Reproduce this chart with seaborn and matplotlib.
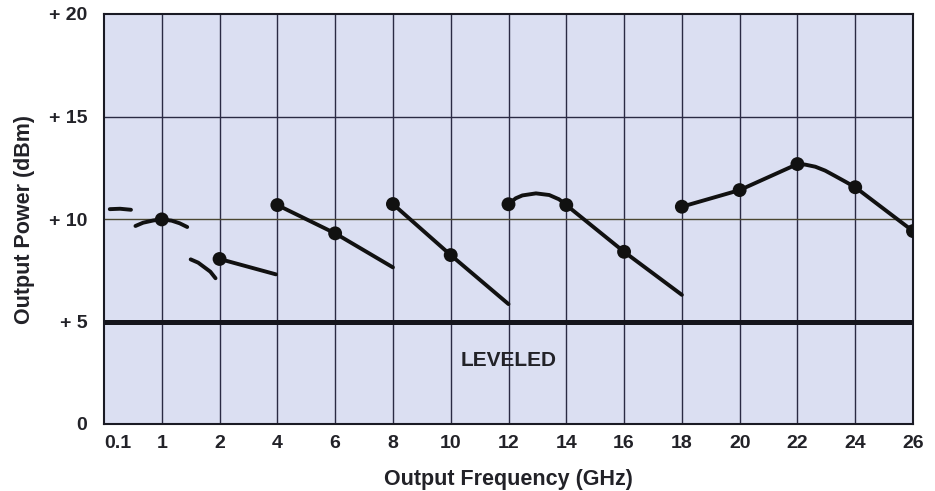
import numpy as np
import pandas as pd
import matplotlib
matplotlib.use("Agg")
import matplotlib.pyplot as plt
import seaborn as sns

# tick positions (GHz) - the chart uses evenly spaced slots for these
tick_ghz = [0.1, 1, 2, 4, 6, 8, 10, 12, 14, 16, 18, 20, 22, 24, 26]
tick_labels = ["0.1", "1", "2", "4", "6", "8", "10", "12", "14", "16", "18", "20", "22", "24", "26"]
ytick_vals = [0, 5, 10, 15, 20]
ytick_labels = ["0", "+ 5", "+ 10", "+ 15", "+ 20"]

# curve segments (GHz, dBm)
seg_a_ghz = [0.19, 0.35, 0.52]
seg_a_dbm = [10.48, 10.50, 10.45]
seg_b_ghz = [0.59, 0.71, 0.87, 1.0, 1.17, 1.31, 1.44]
seg_b_dbm = [9.66, 9.82, 9.93, 9.98, 9.92, 9.79, 9.61]
seg_c_ghz = [1.50, 1.63, 1.74, 1.84, 1.93]
seg_c_dbm = [8.03, 7.87, 7.64, 7.43, 7.11]
seg_d_ghz = [2, 3.95]
seg_d_dbm = [8.05, 7.30]
seg_e_ghz = [4, 6, 8]
seg_e_dbm = [10.68, 9.30, 7.64]
seg_f_ghz = [8, 10, 12]
seg_f_dbm = [10.73, 8.24, 5.85]
seg_g_ghz = [12, 12.25, 12.48, 12.95, 13.41, 13.75, 14, 16, 18]
seg_g_dbm = [10.72, 11.01, 11.15, 11.25, 11.17, 10.96, 10.68, 8.40, 6.30]
seg_h_ghz = [18, 20, 22, 22.28, 22.62, 22.96, 23.3, 23.66, 24, 26]
seg_h_dbm = [10.60, 11.41, 12.68, 12.65, 12.55, 12.36, 12.10, 11.82, 11.55, 9.41]

# measured points (dots)
dot_ghz = [1, 2, 4, 6, 8, 10, 12, 14, 16, 18, 20, 22, 24, 26]
dot_dbm = [9.98, 8.05, 10.68, 9.30, 10.73, 8.24, 10.72, 10.68, 8.40, 10.60, 11.41, 12.68, 11.55, 9.41]

leveled_dbm = 5

segments = {
    "a": (seg_a_ghz, seg_a_dbm), "b": (seg_b_ghz, seg_b_dbm),
    "c": (seg_c_ghz, seg_c_dbm), "d": (seg_d_ghz, seg_d_dbm),
    "e": (seg_e_ghz, seg_e_dbm), "f": (seg_f_ghz, seg_f_dbm),
    "g": (seg_g_ghz, seg_g_dbm), "h": (seg_h_ghz, seg_h_dbm),
}
slots = np.arange(len(tick_ghz))


def to_slot(ghz):
    return np.interp(ghz, tick_ghz, slots)


rows = []
for name, (g, p) in segments.items():
    for i, (gx, py) in enumerate(zip(g, p)):
        rows.append({"segment": name, "order": i, "slot": to_slot(gx), "dbm": py})
curves = pd.DataFrame(rows)
dots = pd.DataFrame({"slot": to_slot(dot_ghz), "dbm": dot_dbm})

sns.set_theme(style="ticks")
plt.rcParams["font.family"] = ["Liberation Sans", "DejaVu Sans"]
ink = "#222228"

fig = plt.figure(figsize=(9.35, 4.91), dpi=100)
ax = fig.add_axes([104 / 935, 1 - 424 / 491, 809 / 935, 410 / 491])
ax.set_facecolor("#dbdff2")

# grid
for s in slots[1:-1]:
    ax.axvline(s, color="#2a2a44", lw=1.0, zorder=1)
ax.axhline(10, color="#4a4630", lw=1.0, zorder=1)
ax.axhline(15, color="#2a2a44", lw=1.0, zorder=1)
ax.axhline(leveled_dbm, color="#15151c", lw=3.6, zorder=2)

for name, grp in curves.groupby("segment"):
    sns.lineplot(data=grp, x="slot", y="dbm", sort=False, estimator=None,
                 color="#111111", linewidth=2.8, ax=ax, zorder=3, legend=False)
sns.scatterplot(data=dots, x="slot", y="dbm", color="#111111", s=100,
                edgecolor="none", ax=ax, zorder=4, legend=False)

ax.text(7, 3.1, "LEVELED", ha="center", va="center", fontsize=15,
        fontweight="bold", color=ink)

ax.set_xlim(0, slots[-1])
ax.set_ylim(0, 20)
ax.set_xticks(slots)
ax.set_xticklabels(tick_labels)
ax.set_yticks(ytick_vals)
ax.set_yticklabels(ytick_labels)
ax.get_xticklabels()[0].set_horizontalalignment("left")
ax.tick_params(axis="both", length=0, labelsize=14, colors=ink)
ax.tick_params(axis="x", pad=8)
ax.tick_params(axis="y", pad=12)
for lab in ax.get_xticklabels() + ax.get_yticklabels():
    lab.set_fontweight("bold")

ax.set_xlabel("Output Frequency (GHz)", fontsize=15.5, fontweight="bold",
              color=ink, labelpad=12)
ax.set_ylabel("Output Power (dBm)", fontsize=15.5, fontweight="bold",
              color=ink, labelpad=10)
for sp in ax.spines.values():
    sp.set_color("#1a1a24")
    sp.set_linewidth(1.5)

fig.savefig("out.png", dpi=100)
